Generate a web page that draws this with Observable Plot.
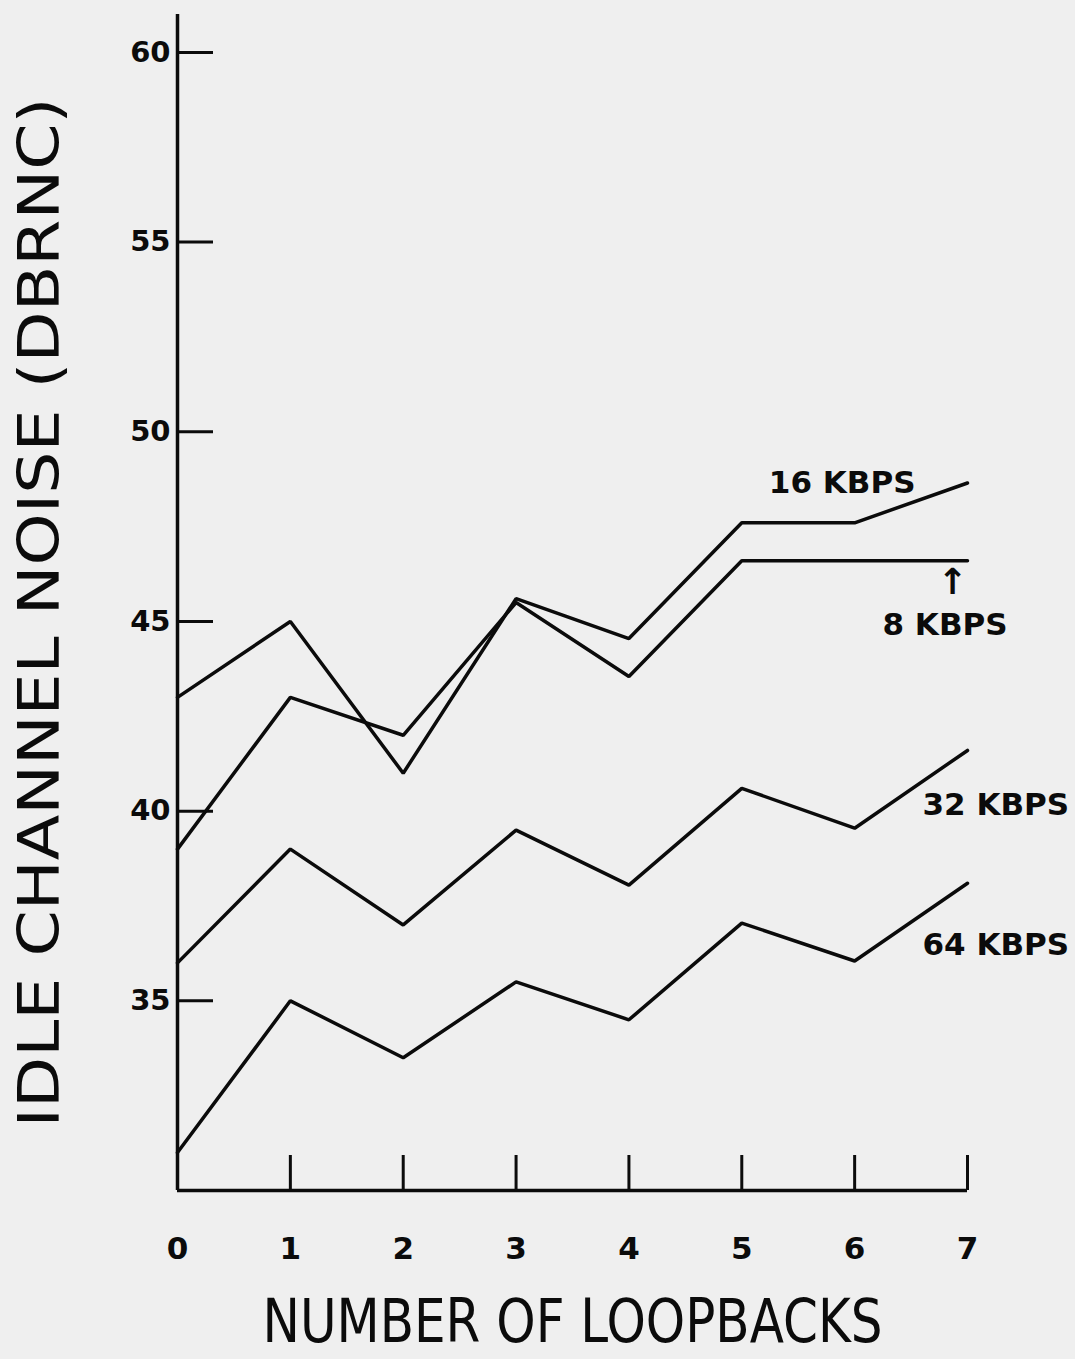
<!DOCTYPE html>
<html>
<head>
<meta charset="utf-8">
<script src="https://cdn.jsdelivr.net/npm/d3@7"></script>
<script src="https://cdn.jsdelivr.net/npm/@observablehq/plot@0.6"></script>
<style>
  html, body { margin: 0; padding: 0; background: #efefef; }
  #chart svg { display: block; }
</style>
</head>
<body>
<div id="chart"></div>
<script>
// ---- data ----
const loopbacks = [0, 1, 2, 3, 4, 5, 6, 7];
const yTicks = [35, 40, 45, 50, 55, 60];
const seriesNames = ["16 KBPS", "8 KBPS", "32 KBPS", "64 KBPS"];
const kbps16 = [43.0, 45.0, 41.0, 45.6, 44.55, 47.6, 47.6, 48.65];
const kbps8  = [39.0, 43.0, 42.0, 45.5, 43.55, 46.6, 46.6, 46.6];
const kbps32 = [36.0, 39.0, 37.0, 39.5, 38.05, 40.6, 39.55, 41.6];
const kbps64 = [31.0, 35.0, 33.5, 35.5, 34.5, 37.05, 36.05, 38.1];
const yTitle = "IDLE CHANNEL NOISE (DBRNC)";
const xTitle = "NUMBER OF LOOPBACKS";
const arrowGlyph = "\u2191";

// ---- build table ----
const seriesValues = [kbps16, kbps8, kbps32, kbps64];
const rows = [];
seriesNames.forEach((name, i) => {
  loopbacks.forEach((x, j) => rows.push({series: name, x, y: seriesValues[i][j]}));
});
const lastPoints = seriesNames.map((name, i) => ({series: name, x: loopbacks[loopbacks.length - 1], y: seriesValues[i][seriesValues[i].length - 1]}));

// label placement (styling only)
const labelStyle = {
  "16 KBPS": {dx: -52, dy: 0, textAnchor: "end"},
  "8 KBPS":  {dx: -85, dy: 64, textAnchor: "start"},
  "32 KBPS": {dx: -45, dy: 55, textAnchor: "start"},
  "64 KBPS": {dx: -45, dy: 62, textAnchor: "start"}
};

const ink = "#0b0b0b";
const font = "'DejaVu Sans', sans-serif";
const xMin = d3.min(loopbacks), xMax = d3.max(loopbacks);
const yMin = 30, yTop = 61;

const labelMarks = lastPoints.map(p => Plot.text([p], {
  x: "x", y: "y", text: "series",
  dx: labelStyle[p.series].dx, dy: labelStyle[p.series].dy,
  textAnchor: labelStyle[p.series].textAnchor,
  fontSize: 31, fontWeight: "bold", fill: ink
}));

const chart = Plot.plot({
  width: 1075,
  height: 1359,
  marginLeft: 177,
  marginRight: 108,
  marginTop: 14,
  marginBottom: 169,
  style: {background: "transparent", fontFamily: font, color: ink},
  x: {domain: [xMin, xMax], label: null},
  y: {domain: [yMin, yTop], label: null},
  marks: [
    // axis lines
    Plot.ruleX([xMin], {y1: yMin, y2: yTop, stroke: ink, strokeWidth: 3.5}),
    Plot.ruleY([yMin], {x1: xMin, x2: xMax, stroke: ink, strokeWidth: 3.5}),
    // inward ticks
    Plot.axisY({ticks: yTicks, tickSize: 36, dx: 36, tickFormat: () => "", label: null, stroke: ink, strokeWidth: 3}),
    Plot.axisX({ticks: loopbacks.slice(1), tickSize: 35, dy: -35, tickFormat: () => "", label: null, stroke: ink, strokeWidth: 3}),
    // tick labels
    Plot.axisY({ticks: yTicks, tickSize: 0, tickPadding: 7, tickFormat: d => String(d), label: null, fontSize: 29, fontWeight: "bold", fill: ink}),
    Plot.axisX({ticks: loopbacks, tickSize: 0, tickPadding: 46, tickFormat: d => String(d), label: null, fontSize: 31, fontWeight: "bold", fill: ink}),
    // series lines
    Plot.line(rows, {x: "x", y: "y", z: "series", stroke: ink, strokeWidth: 3.5, strokeLinejoin: "miter"}),
    // series labels
    ...labelMarks,
    Plot.text([lastPoints[1]], {x: "x", y: "y", text: () => arrowGlyph, dx: -15, dy: 22, fontSize: 36, fontWeight: "bold", fill: ink}),
    // titles
    Plot.text([yTitle], {frameAnchor: "left", text: d => d, textAnchor: "middle", lineAnchor: "middle", rotate: -90, dx: -137, dy: 10, fontSize: 57, fill: ink}),
    Plot.text([xTitle], {frameAnchor: "bottom", text: d => d, textAnchor: "middle", lineAnchor: "middle", dy: 132, fontSize: 60, fill: ink})
  ]
});

document.getElementById("chart").appendChild(chart);

// stretch title lettering to the plotter widths
const fit = {[yTitle]: 1030, [xTitle]: 620};
d3.select(chart).selectAll("text").each(function() {
  const t = this.textContent;
  if (fit[t]) d3.select(this).attr("textLength", fit[t]).attr("lengthAdjust", "spacingAndGlyphs");
});
</script>
</body>
</html>
